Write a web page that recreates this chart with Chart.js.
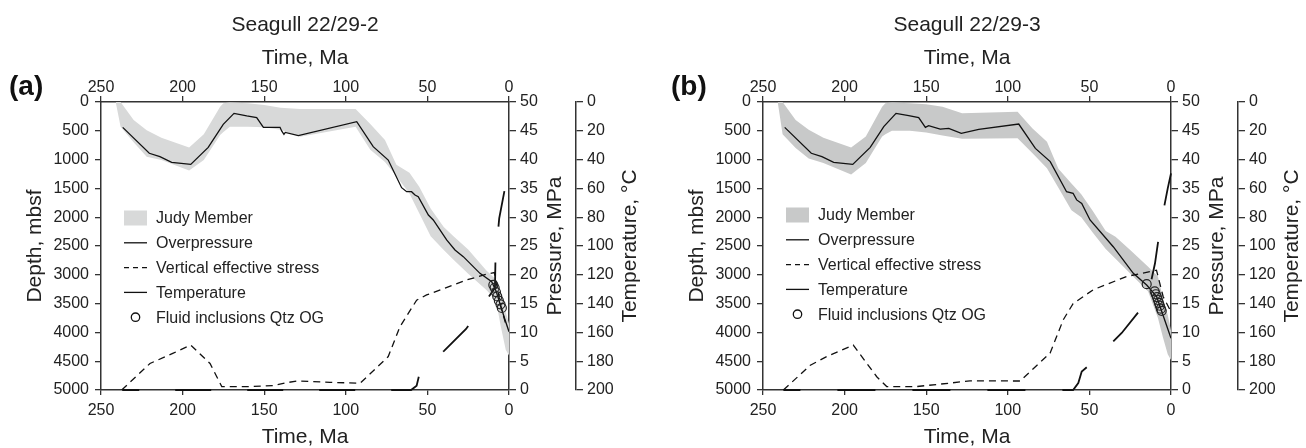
<!DOCTYPE html>
<html>
<head>
<meta charset="utf-8">
<title>Seagull burial and pressure history</title>
<script src="https://cdn.jsdelivr.net/npm/chart.js@4.4.1/dist/chart.umd.min.js"></script>
<style>
  html, body { margin: 0; padding: 0; background: #fff; }
  #wrap { position: relative; width: 1306px; height: 448px; overflow: hidden; }
  canvas { position: absolute; top: 0; }
</style>
</head>
<body>
<div id="wrap">
  <canvas id="panelA" width="644" height="448" style="left:0"></canvas>
  <canvas id="panelB" width="644" height="448" style="left:662px"></canvas>
</div>
<script>
// Judy Member envelope (depth, m) on a shared time grid (Ma)
const bandTime = [241, 238, 230, 222, 213, 196, 187, 177, 175, 171, 160, 150, 140, 128, 94, 85, 76, 69, 61, 55, 48, 40, 34, 25, 14, 8, 5, 2, 0];
const judyTopA = [0, 0, 312, 490, 620, 790, 560, 81, 23, 10, 20, 50, 98, 122, 122, 380, 660, 1090, 1230, 1470, 1850, 2170, 2330, 2560, 2920, 3080, 3400, 3650, 3850];
const judyBaseA = [0, 430, 700, 950, 1005, 1190, 1007, 573, 520, 428, 428, 440, 480, 602, 430, 830, 1040, 1290, 1590, 1930, 2330, 2570, 2740, 2980, 3260, 3440, 3900, 4300, 4400];
const judyTopB = [0, 0, 312, 480, 620, 790, 600, 81, 23, 10, 20, 40, 81, 197, 168, 457, 690, 1160, 1415, 1600, 1890, 2240, 2340, 2570, 2860, 3030, 3400, 3700, 3969];
const judyBaseB = [0, 560, 800, 980, 1060, 1260, 1060, 600, 560, 500, 500, 530, 580, 640, 631, 885, 1150, 1490, 1880, 2000, 2265, 2550, 2720, 2977, 3290, 3750, 4080, 4380, 4479];

// Temperature history, degC
const tempTimeA = [236.7, 220.4, 213.9, 206.7, 195, 184.3, 175.1, 168.5, 160.7, 154.6, 150.5, 140.3, 139.3, 137.9, 137.1, 129.1, 93.3, 83.2, 74, 65.8, 62.7, 59.7, 57.6, 55.6, 49.4, 46.4, 38.2, 33.1, 28, 17.8, 10.6, 8, 5, 2.5, 0];
const tempA = [17.6, 35.6, 38, 41.9, 43.3, 31.5, 15.5, 7.9, 9.7, 10.9, 17.6, 17.6, 20.1, 22.4, 21.1, 23.4, 13.7, 31, 40.3, 59.5, 62.3, 62.3, 64.6, 65.8, 78.5, 81.9, 95.8, 102.8, 107.4, 119, 124.8, 131, 142, 151, 159.5];
const tempTimeB = [236.7, 220.4, 213.9, 206.7, 195, 184.3, 176, 168.5, 160.7, 154.6, 150.5, 148.5, 141.4, 136.2, 128.5, 117.8, 93.3, 83.1, 74, 64, 60, 57.8, 54.7, 49.6, 35.4, 23.1, 14.9, 8.8, 0];
const tempB = [17.6, 35.6, 38, 41.9, 43.3, 31.5, 17.1, 7.9, 9.5, 10.9, 17.6, 16.4, 18.8, 18.3, 21.8, 19, 15.3, 32.2, 41.4, 62.3, 63.4, 68, 70.4, 81.9, 100.5, 119, 127.1, 135.2, 164.1];

// Overpressure, MPa
const opTimeA = [237, 60, 56.6, 54.5, 52.9, 39.8, 26.3, 15.9, 8.6, 8.3, 6, 2.5, 0];
const opA = [0, 0, 0.75, 3.2, 3.4, 6.8, 10.6, 14.8, 17.7, 22.6, 29.8, 35, 37.9];
const opTimeB = [237.5, 60, 56.8, 54.7, 46.6, 30.2, 14.9, 9.8, 6.6, 2, 0];
const opB = [0, 0, 1.2, 3.2, 5.2, 9.9, 15.3, 22, 28.3, 35, 37.6];

// Vertical effective stress, MPa
const vesTimeA = [237.3, 220, 205.7, 195, 183.2, 176, 158.7, 144.4, 136.2, 130.1, 109.7, 91.3, 74, 66.8, 56.6, 50.5, 26, 13.7, 9, 5, 1.5];
const vesA = [0, 4.6, 6.4, 7.8, 4.6, 0.6, 0.6, 0.75, 1.27, 1.56, 1.34, 1.16, 5.8, 11, 15.6, 16.5, 19.1, 20.1, 20.4, 14.5, 11];
const vesTimeB = [237.5, 221, 211, 194.7, 180.3, 174.2, 155.8, 135.4, 123.2, 92.5, 74.1, 66, 60, 47.7, 27.3, 8.9, 4.8, 0.6];
const vesB = [0, 4.3, 5.8, 7.8, 2.3, 0.6, 0.6, 1.2, 1.6, 1.56, 6.4, 12.2, 15, 17.4, 19.7, 20.8, 16.2, 13.9];

// Fluid inclusion homogenisation temperatures, quartz overgrowths
const fiTimeA = [9.6, 8.8, 8.0, 7.2, 6.2, 5.2, 4.4];
const fiTempA = [127, 129, 132, 135, 138, 140.5, 143];
const fiTimeB = [14.9, 10, 9.3, 8.6, 8, 7.4, 6.8, 6.2, 5.7];
const fiTempB = [126.5, 131.5, 133.5, 135.5, 137.5, 139.5, 141.5, 143.5, 145];

const legendLabels = ['Judy Member', 'Overpressure', 'Vertical effective stress', 'Temperature', 'Fluid inclusions Qtz OG'];

const FONT = "'Liberation Sans', Arial, sans-serif";
const AXIS = '#333';
Chart.defaults.font.family = FONT;
Chart.defaults.color = '#222';

function pts(xs, ys) {
    return xs.map((x, i) => ({ x: x, y: ys[i] }));
}

// panel tag, upward-reading right axis titles and the in-plot legend
const panelExtras = {
    id: 'panelExtras',
    afterDraw(chart, args, opts) {
        const ctx = chart.ctx;
        const a = chart.chartArea;
        const midY = (a.top + a.bottom) / 2;
        ctx.save();
        ctx.fillStyle = '#111';
        ctx.font = 'bold 28px ' + FONT;
        ctx.textAlign = 'left';
        ctx.textBaseline = 'middle';
        ctx.fillText(opts.tag, 9, 87);

        ctx.fillStyle = '#222';
        ctx.font = '21px ' + FONT;
        ctx.textAlign = 'center';
        [['Pressure, MPa', a.right + 46], ['Temperature, \u00B0C', a.right + 121]].forEach(([txt, x]) => {
            ctx.save();
            ctx.translate(x, midY);
            ctx.rotate(-Math.PI / 2);
            ctx.fillText(txt, 0, 0);
            ctx.restore();
        });

        const x0 = a.left + 23, x1 = a.left + 46, tx = a.left + 55;
        ctx.font = '16px ' + FONT;
        ctx.textAlign = 'left';
        legendLabels.forEach((label, i) => {
            const y = a.top + opts.legendTop + i * 24.8;
            ctx.strokeStyle = '#111';
            ctx.lineWidth = 1.3;
            ctx.setLineDash([]);
            if (i === 0) {
                ctx.fillStyle = opts.band;
                ctx.fillRect(x0, y - 7.5, x1 - x0, 15);
            } else if (i === 4) {
                ctx.beginPath();
                ctx.arc((x0 + x1) / 2, y, 4.2, 0, Math.PI * 2);
                ctx.stroke();
            } else {
                if (i === 2) ctx.setLineDash([5, 4]);
                ctx.beginPath();
                ctx.moveTo(x0, y);
                ctx.lineTo(x1, y);
                ctx.stroke();
            }
            ctx.setLineDash([]);
            ctx.fillStyle = '#222';
            ctx.fillText(label, tx, y + 1);
        });
        ctx.restore();
    }
};

function axisGrid(len) {
    return { drawOnChartArea: false, drawTicks: true, tickLength: len, color: AXIS, lineWidth: 1.3 };
}

const plainNumber = { useGrouping: false };

function makePanel(id, p) {
    return new Chart(document.getElementById(id), {
        type: 'line',
        data: {
            datasets: [
                {
                    label: 'Fluid inclusions Qtz OG', data: pts(p.fiTime, p.fiTemp), yAxisID: 'yT', showLine: false,
                    pointRadius: 4.5, pointBorderColor: '#222', pointBackgroundColor: 'rgba(255,255,255,0)', pointBorderWidth: 1.2
                },
                { label: 'Temperature', data: pts(p.tempTime, p.temp), yAxisID: 'yT', borderColor: '#111', borderWidth: 1.3, pointRadius: 0 },
                {
                    label: 'Overpressure', data: pts(p.opTime, p.op), yAxisID: 'yP', borderColor: '#111', borderWidth: 1.8,
                    pointRadius: 0, borderDash: p.opDash, borderDashOffset: p.opOffset, clip: 3
                },
                {
                    label: 'Vertical effective stress', data: pts(p.vesTime, p.ves), yAxisID: 'yP', borderColor: '#111',
                    borderWidth: 1.3, pointRadius: 0, borderDash: [7, 5]
                },
                { label: 'Judy Member top', data: pts(bandTime, p.judyTop), yAxisID: 'y', borderColor: 'rgba(0,0,0,0)', pointRadius: 0, fill: false },
                {
                    label: 'Judy Member', data: pts(bandTime, p.judyBase), yAxisID: 'y', borderColor: 'rgba(0,0,0,0)',
                    pointRadius: 0, backgroundColor: p.band, fill: '-1'
                }
            ]
        },
        options: {
            responsive: false,
            animation: false,
            layout: { padding: 0 },
            elements: { line: { tension: 0 } },
            plugins: {
                legend: { display: false },
                tooltip: { enabled: false },
                filler: { drawTime: 'beforeDatasetsDraw' },
                title: {
                    display: true, text: p.name, fullSize: false, color: '#222',
                    font: { size: 21, weight: 'normal' }, padding: { top: 12.8, bottom: 0 }
                },
                panelExtras: { tag: p.tag, band: p.band, legendTop: p.legendTop }
            },
            scales: {
                x: {
                    type: 'linear', position: 'bottom', min: 0, max: 250, reverse: true,
                    ticks: { stepSize: 50, padding: 6, maxRotation: 0, font: { size: 16 } },
                    grid: axisGrid(5), border: { color: AXIS, width: 1.5 },
                    title: { display: true, text: 'Time, Ma', font: { size: 21, lineHeight: 1 }, padding: 0 },
                    afterFit: s => { s.height = 58; }
                },
                x2: {
                    type: 'linear', position: 'top', min: 0, max: 250, reverse: true,
                    ticks: { stepSize: 50, padding: 0, maxRotation: 0, font: { size: 16, lineHeight: 1 } },
                    grid: axisGrid(6), border: { color: AXIS, width: 1.5 },
                    title: { display: true, text: 'Time, Ma', font: { size: 21, lineHeight: 1 }, padding: { top: 9.5, bottom: 0 } },
                    afterFit: s => { s.height = 64; }
                },
                y: {
                    type: 'linear', position: 'left', min: 0, max: 5000, reverse: true,
                    ticks: { stepSize: 500, padding: 6, autoSkip: false, format: plainNumber, font: { size: 16 } },
                    grid: axisGrid(6), border: { color: AXIS, width: 1.5 },
                    title: { display: true, text: 'Depth, mbsf', font: { size: 21, lineHeight: 1 }, padding: { top: 24.5, bottom: 0 } },
                    afterFit: s => { s.width = 101; }
                },
                yP: {
                    type: 'linear', position: 'right', min: 0, max: 50, weight: 0,
                    ticks: { stepSize: 5, padding: 4, autoSkip: false, font: { size: 16 } },
                    grid: axisGrid(7), border: { color: AXIS, width: 1.5 },
                    afterFit: s => { s.width = 67; }
                },
                yT: {
                    type: 'linear', position: 'right', min: 0, max: 200, reverse: true, weight: 1,
                    ticks: { stepSize: 20, padding: 4, autoSkip: false, font: { size: 16 } },
                    grid: axisGrid(7), border: { color: AXIS, width: 1.5 },
                    afterFit: s => { s.width = 68; }
                }
            }
        },
        plugins: [panelExtras]
    });
}

makePanel('panelA', {
    name: 'Seagull 22/29-2', tag: '(a)', band: '#d8d9d9', legendTop: 116,
    judyTop: judyTopA, judyBase: judyBaseA,
    tempTime: tempTimeA, temp: tempA,
    opTime: opTimeA, op: opA, opDash: [36, 36], opOffset: 19,
    vesTime: vesTimeA, ves: vesA,
    fiTime: fiTimeA, fiTemp: fiTempA
});

makePanel('panelB', {
    name: 'Seagull 22/29-3', tag: '(b)', band: '#c8c9c9', legendTop: 113,
    judyTop: judyTopB, judyBase: judyBaseB,
    tempTime: tempTimeB, temp: tempB,
    opTime: opTimeB, op: opB, opDash: [38, 37], opOffset: 21,
    vesTime: vesTimeB, ves: vesB,
    fiTime: fiTimeB, fiTemp: fiTempB
});
</script>
</body>
</html>
